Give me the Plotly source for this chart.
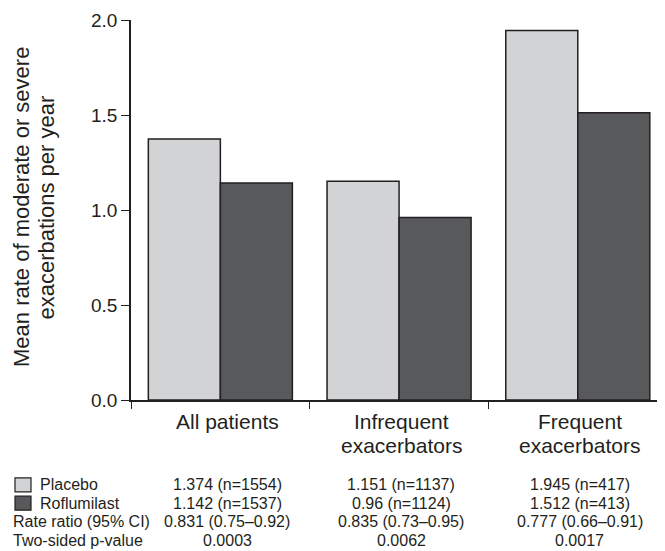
import plotly.graph_objects as go

# ---------------- data ----------------
categories = ["All patients", "Infrequent exacerbators", "Frequent exacerbators"]
category_lines = [["All patients"], ["Infrequent", "exacerbators"], ["Frequent", "exacerbators"]]
placebo = [1.374, 1.151, 1.945]
roflumilast = [1.142, 0.96, 1.512]
placebo_n = [1554, 1137, 417]
roflumilast_n = [1537, 1124, 413]
rate_ratio = ["0.831", "0.835", "0.777"]
ci_text = ["0.75–0.92", "0.73–0.95", "0.66–0.91"]
p_values = ["0.0003", "0.0062", "0.0017"]
y_ticks = [0.0, 0.5, 1.0, 1.5, 2.0]
series_names = ["Placebo", "Roflumilast"]
row_labels = ["Rate ratio (95% CI)", "Two-sided p-value"]
y_title_lines = ["Mean rate of moderate or severe", "exacerbations per year"]

# ---------------- style ----------------
# The page body has an 8px default margin, so the figure is drawn 8px in
# from the top-left corner of the window; layout is expressed in window pixels.
OFF = 8
WIN_W, WIN_H = 665, 551
W, H = WIN_W - OFF, WIN_H - OFF
PLOT_L, PLOT_T, PLOT_R, PLOT_B = 131, 20, 665, 400   # plot area in window pixels
L, T = PLOT_L - OFF, PLOT_T - OFF
R, B = (OFF + W) - PLOT_R, (OFF + H) - PLOT_B
PW, PH = PLOT_R - PLOT_L, PLOT_B - PLOT_T
FONT = "Liberation Sans, Arial, Helvetica, sans-serif"
INK = "#231f20"
LIGHT = "#d1d3d4"
DARK = "#58595b"


def px_x(p):
    return (p - PLOT_L) / PW


def px_y(p):
    return (PLOT_B - p) / PH


fig = go.Figure()
fig.add_trace(go.Bar(x=categories, y=placebo, name=series_names[0],
                     marker=dict(color=LIGHT, line=dict(color=INK, width=1.5))))
fig.add_trace(go.Bar(x=categories, y=roflumilast, name=series_names[1],
                     marker=dict(color=DARK, line=dict(color=INK, width=1.5))))

annotations = []
# y-axis title (two lines)
for text, cx in zip(y_title_lines, [21.5, 46]):
    annotations.append(dict(text=text, xref="paper", yref="paper", x=0, xshift=cx - PLOT_L,
                            y=px_y(207.5), xanchor="center", yanchor="middle", textangle=-90,
                            showarrow=False, font=dict(family=FONT, size=22, color=INK)))

# category labels under the axis
col_shift = [7, 2, 2]
for cat, lines, sh in zip(categories, category_lines, col_shift):
    for i, line in enumerate(lines):
        annotations.append(dict(text=line, xref="x", yref="paper", x=cat, xshift=sh,
                                y=px_y(421 + 24.5 * i), xanchor="center", yanchor="middle",
                                showarrow=False, font=dict(family=FONT, size=21, color=INK)))

# table
row_y = [484.8, 503.2, 521.8, 540.5]
tfont = dict(family=FONT, size=16, color=INK)
cols = [
    [f"{v} (n={n})" for v, n in zip(placebo, placebo_n)],
    [f"{v} (n={n})" for v, n in zip(roflumilast, roflumilast_n)],
    [f"{r} ({c})" for r, c in zip(rate_ratio, ci_text)],
    p_values,
]
for ry, vals in zip(row_y, cols):
    for cat, val, sh in zip(categories, vals, col_shift):
        annotations.append(dict(text=val, xref="x", yref="paper", x=cat, xshift=sh,
                                y=px_y(ry), xanchor="center", yanchor="middle",
                                showarrow=False, font=tfont))

# row labels
for name, ry in zip(series_names, row_y[:2]):
    annotations.append(dict(text=name, xref="paper", yref="paper", x=px_x(38), y=px_y(ry),
                            xanchor="left", yanchor="middle", showarrow=False, font=tfont))
for name, ry in zip(row_labels, row_y[2:]):
    annotations.append(dict(text=name, xref="paper", yref="paper", x=px_x(11), y=px_y(ry),
                            xanchor="left", yanchor="middle", showarrow=False, font=tfont))

# legend swatches
shapes = []
for colr, ry in zip([LIGHT, DARK], row_y[:2]):
    shapes.append(dict(type="rect", xref="paper", yref="paper",
                       x0=px_x(15), x1=px_x(31), y0=px_y(ry - 7), y1=px_y(ry + 7),
                       fillcolor=colr, line=dict(color=INK, width=1.2)))

fig.update_layout(
    width=W, height=H,
    margin=dict(l=L, r=R, t=T, b=B, pad=0, autoexpand=False),
    paper_bgcolor="white", plot_bgcolor="white",
    barmode="group", bargap=0.194, bargroupgap=0,
    showlegend=False,
    annotations=annotations,
    shapes=shapes,
    font=dict(family=FONT, color=INK),
)
fig.update_xaxes(
    type="category", range=[-0.5, 2.488], showline=True, linecolor=INK, linewidth=1.5,
    ticks="outside", tickson="boundaries", ticklen=7, tickwidth=1.3, tickcolor=INK,
    showticklabels=False, showgrid=False, zeroline=False,
)
fig.update_yaxes(
    range=[0, 2.0], tickvals=y_ticks, tickformat=".1f", showline=True, linecolor=INK,
    linewidth=1.5, ticks="outside", ticklen=8, tickwidth=1.3, tickcolor=INK,
    tickfont=dict(family=FONT, size=19, color=INK), showgrid=False, zeroline=False,
)

fig.write_html("out.html")
